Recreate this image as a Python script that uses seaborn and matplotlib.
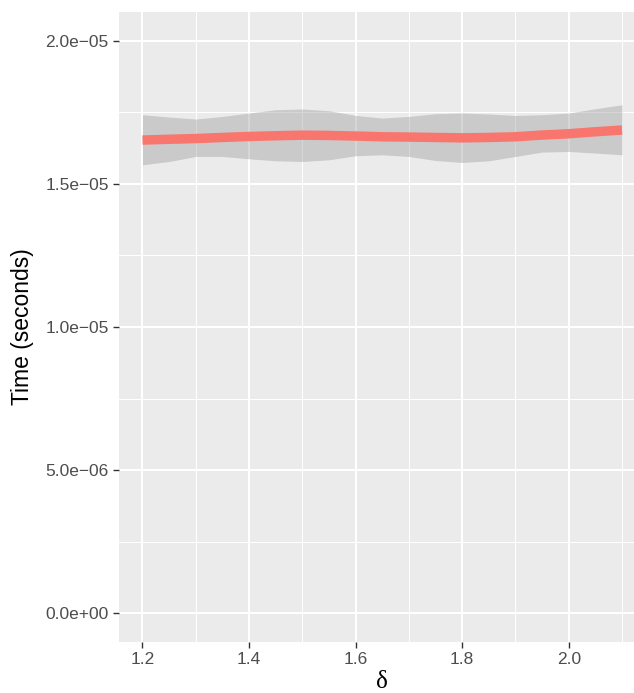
import numpy as np
import pandas as pd
import matplotlib
matplotlib.use("Agg")
import matplotlib.pyplot as plt
import seaborn as sns

# Smoothed timing curve with its confidence band
delta = [1.20, 1.25, 1.30, 1.35, 1.40, 1.45, 1.50, 1.55, 1.60, 1.65,
         1.70, 1.75, 1.80, 1.85, 1.90, 1.95, 2.00, 2.05, 2.10]
time_fit = [1.6528, 1.6556, 1.6580, 1.6619, 1.6654, 1.6678, 1.6699, 1.6689,
            1.6668, 1.6643, 1.6633, 1.6619, 1.6605, 1.6619, 1.6643, 1.6703,
            1.6748, 1.6818, 1.6878]
time_upper = [1.7413, 1.7332, 1.7262, 1.7353, 1.7472, 1.7587, 1.7612, 1.7552,
              1.7388, 1.7297, 1.7353, 1.7448, 1.7472, 1.7437, 1.7388, 1.7413,
              1.7472, 1.7622, 1.7762]
time_lower = [1.5664, 1.5780, 1.5955, 1.5955, 1.5874, 1.5804, 1.5780, 1.5839,
              1.5979, 1.6014, 1.5955, 1.5815, 1.5745, 1.5804, 1.5955, 1.6108,
              1.6129, 1.6073, 1.6014]
scale = 1e-5

x_major = [1.2, 1.4, 1.6, 1.8, 2.0]
x_labels = ["1.2", "1.4", "1.6", "1.8", "2.0"]
x_minor = [1.3, 1.5, 1.7, 1.9, 2.1]
y_major = [0.0, 5e-6, 1e-5, 1.5e-5, 2e-5]
y_labels = ["0.0e+00", "5.0e\u221206", "1.0e\u221205", "1.5e\u221205", "2.0e\u221205"]
y_minor = [2.5e-6, 7.5e-6, 1.25e-5, 1.75e-5]

df = pd.DataFrame({
    "delta": delta,
    "fit": np.array(time_fit) * scale,
    "upper": np.array(time_upper) * scale,
    "lower": np.array(time_lower) * scale,
})

sns.set_theme(style="darkgrid", rc={
    "axes.facecolor": "#EBEBEB",
    "figure.facecolor": "white",
    "grid.color": "white",
})
plt.rcParams["font.family"] = ["Liberation Sans", "DejaVu Sans"]

fig = plt.figure(figsize=(6.34, 6.93), dpi=100)
ax = fig.add_axes([118.5 / 634, 51 / 693, (646 - 118.5) / 634, 630 / 693])

ax.fill_between(df["delta"], df["lower"], df["upper"],
                color="#999999", alpha=0.4, linewidth=0, zorder=2)
sns.lineplot(data=df, x="delta", y="fit", color="#F8766D", linewidth=6.8,
             solid_capstyle="butt", ax=ax, zorder=3)

ax.set_xlim(1.155, 2.145)
ax.set_ylim(-1e-6, 2.1e-5)

ax.set_xticks(x_major)
ax.set_xticklabels(x_labels)
ax.set_xticks(x_minor, minor=True)
ax.set_yticks(y_major)
ax.set_yticklabels(y_labels)
ax.set_yticks(y_minor, minor=True)

ax.grid(which="major", color="white", linewidth=1.5)
ax.grid(which="minor", color="white", linewidth=0.75)
ax.set_axisbelow(True)

ax.tick_params(which="major", length=4, width=1.0, color="#333333",
               labelsize=12.5, labelcolor="#4D4D4D", pad=3,
               bottom=True, left=True)
ax.tick_params(which="minor", length=0)

for s in ax.spines.values():
    s.set_visible(False)

ax.set_ylabel("Time (seconds)", fontsize=16.5, color="black", labelpad=8)
ax.set_xlabel("\u03b4", fontsize=18, color="black", labelpad=3,
              family=["Liberation Serif", "DejaVu Serif"])

fig.savefig("out.png", dpi=100)
